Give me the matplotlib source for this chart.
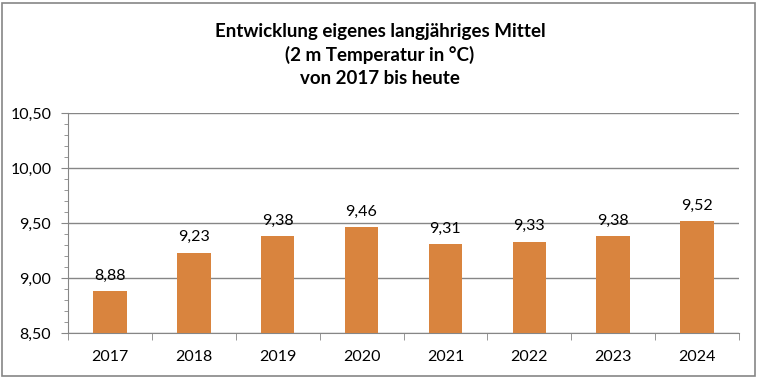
import matplotlib
matplotlib.use("Agg")
import matplotlib.pyplot as plt
from matplotlib.ticker import MultipleLocator, FuncFormatter
from matplotlib.patches import Rectangle

years = ["2017", "2018", "2019", "2020", "2021", "2022", "2023", "2024"]
values = [8.88, 9.23, 9.38, 9.46, 9.31, 9.33, 9.38, 9.52]
title = "Entwicklung eigenes langjähriges Mittel\n(2 m Temperatur in °C)\nvon 2017 bis heute"

plt.rcParams['font.family'] = ['Lato', 'DejaVu Sans']
W, H = 759, 379
fig = plt.figure(figsize=(W/100, H/100), dpi=100)
ax = fig.add_axes([68/W, 1-333/H, (739-68)/W, (333-113)/H])

bar_color = "#D9843E"
grid_color = "#868686"
x = range(len(years))
ax.bar(x, values, width=0.4, color=bar_color, zorder=3)
ax.set_xlim(-0.5, len(years)-0.5)
ax.set_ylim(8.5, 10.5)
ax.yaxis.set_major_locator(MultipleLocator(0.5))
ax.yaxis.set_minor_locator(MultipleLocator(0.1))
ax.yaxis.set_major_formatter(FuncFormatter(lambda v, p: f"{v:.2f}".replace(".", ",")))
ax.grid(axis='y', which='major', color=grid_color, linewidth=1, zorder=0)
ax.set_xticks(list(x))
ax.set_xticklabels(years)
ax.set_xticks([i-0.5 for i in range(len(years)+1)], minor=True)
ax.tick_params(axis='x', which='major', length=0, pad=12, labelsize=11.5)
ax.tick_params(axis='x', which='minor', length=5, color=grid_color, direction='out')
ax.tick_params(axis='y', which='major', length=5, color=grid_color, labelsize=11.5, pad=7)
ax.tick_params(axis='y', which='minor', length=3, color=grid_color)
for s in ['top', 'right']:
    ax.spines[s].set_visible(False)
for s in ['left', 'bottom']:
    ax.spines[s].set_color(grid_color)

for i, v in zip(x, values):
    ax.annotate(f"{v:.2f}".replace(".", ","), (i, v), xytext=(0, 6), textcoords='offset points',
                ha='center', va='bottom', fontsize=11.5, zorder=4)

fig.text(380/W, 1-55/H, title, ha='center', va='center', fontsize=13.5,
         fontweight='bold', linespacing=1.4)
fig.patches.append(Rectangle((2/W, 3/H), (755-2)/W, (376-3)/H, transform=fig.transFigure,
                             fill=False, edgecolor=grid_color, linewidth=1.2))
fig.savefig("out.png", dpi=100)
